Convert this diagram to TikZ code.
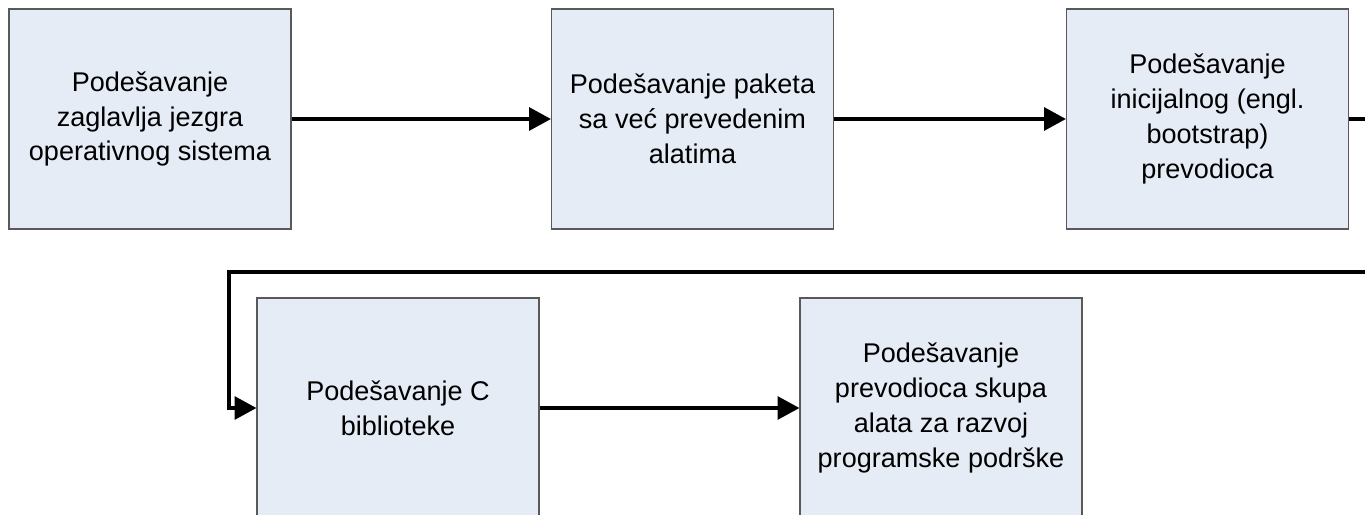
\documentclass[tikz,border=0pt]{standalone}
\usepackage{fontspec}
\setmainfont{Liberation Sans}
\usepackage{tikz}
\usetikzlibrary{arrows.meta}

\tikzset{
  korak/.style={draw=black!65,line width=0.6pt,fill=fillblue,minimum width=282*0.02cm,
    minimum height=220*0.02cm,inner sep=0pt,align=center,
    font=\fontsize{15.4}{19.8}\selectfont},
  tok/.style={line width=2.1pt,-{Triangle[length=12.5pt,width=13pt]}}
}
\definecolor{fillblue}{RGB}{230,236,246}

\begin{document}
\begin{tikzpicture}[x=0.02cm,y=-0.02cm]

\useasboundingbox (0,0) rectangle (1365,514);
\clip (0,0) rectangle (1365,514);

\node [korak] (zaglavlja) at (150,119) {Podešavanje\\zaglavlja jezgra\\operativnog sistema};
\node [korak] (paket)     at (692.5,119) {Podešavanje paketa\\sa već prevedenim\\alatima};
\node [korak] (bootstrap) at (1207.5,119) {Podešavanje\\inicijalnog (engl.\\bootstrap)\\prevodioca};

\node [korak] (biblioteka) at (398,408) {Podešavanje C\\biblioteke};
\node [korak] (skup)       at (941,408) {Podešavanje\\prevodioca skupa\\alata za razvoj\\programske podrške};

\coordinate (desno)  at (1400,119);
\coordinate (dole)   at (1400,272);
\coordinate (levo)   at (229,272);

\draw[tok]  (zaglavlja)  --  (paket);
\draw[tok]  (paket)  --  (bootstrap);
\draw[tok]  (bootstrap.east)  --  (desno)  --  (dole)  --  (levo)  |-  (biblioteka.west);
\draw[tok]  (biblioteka)  --  (skup);

\end{tikzpicture}
\end{document}
